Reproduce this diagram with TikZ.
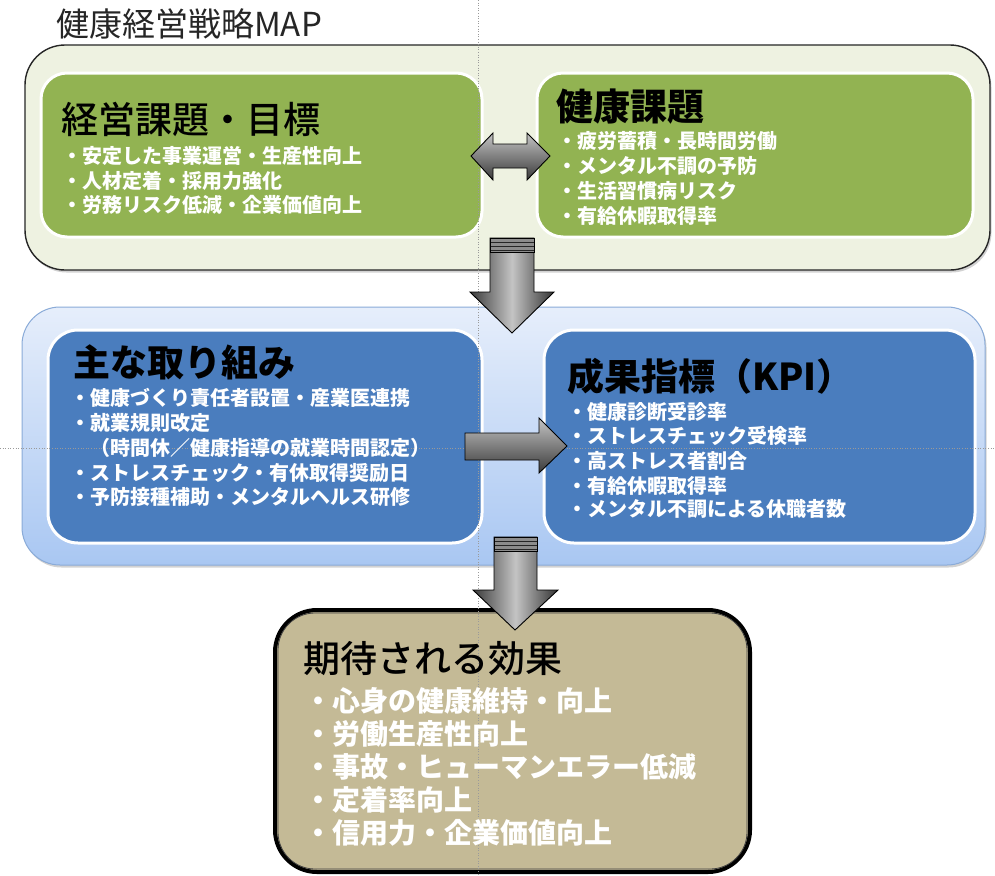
\documentclass[tikz,border=0pt]{standalone}
\usepackage{fontspec}
\setmainfont{Noto Sans CJK JP}
\newfontfamily\jpmedium{Noto Sans CJK JP Medium}
\usetikzlibrary{shadows}
\definecolor{toppanel}{HTML}{EEF2E1}
\definecolor{greenbox}{HTML}{92B352}
\definecolor{bluebox}{HTML}{4A7DBE}
\definecolor{khaki}{HTML}{C4BA96}
\definecolor{midtop}{HTML}{E6EEFB}
\definecolor{midbot}{HTML}{A9C7F2}
\definecolor{midline}{HTML}{8AABD8}
\definecolor{guide}{HTML}{9A9A9A}
\definecolor{arrdark}{HTML}{3A3A3A}
\definecolor{arrlight}{HTML}{C4C4C4}
\begin{document}
\begin{tikzpicture}[x=1pt,y=-1pt,
  outerpanel/.style={inner sep=0pt, rounded corners=40pt, line width=1.4pt,
    drop shadow={shadow xshift=1.5pt, shadow yshift=-2.5pt, opacity=.35}},
  innerbox/.style={inner sep=0pt, rounded corners=26pt, draw=white, line width=3pt},
  head/.style={anchor=base west, inner sep=0pt, font=\fontsize{37}{37}\selectfont\bfseries, text=black},
  headmed/.style={anchor=base west, inner sep=0pt, font=\fontsize{37}{37}\selectfont\jpmedium, text=black},
  item/.style={anchor=base west, inner sep=0pt, font=\fontsize{20}{20}\selectfont\bfseries, text=white},
  bigitem/.style={anchor=base west, inner sep=0pt, font=\fontsize{28}{28}\selectfont\bfseries, text=white},
  blockarrow/.style={draw=black, line width=0.9pt, line join=miter},
  guideline/.style={draw=guide, dotted, line width=0.6pt}
]
\useasboundingbox (0,0) rectangle (995,875);
\fill[white] (0,0) rectangle (995,875);

% title
\node[anchor=base west, inner sep=0pt, font=\fontsize{33}{33}\selectfont, text=black!85] (title) at (56,37) {健康経営戦略MAP};

% top panel
\node[outerpanel, draw=black!85, fill=toppanel, minimum width=965pt, minimum height=225pt] (top) at (507.5,157.5) {};
\node[innerbox, fill=greenbox, minimum width=441pt, minimum height=164pt] (mgmt) at (261.5,155) {};
\node[innerbox, fill=greenbox, minimum width=436pt, minimum height=164pt] (health) at (755,155) {};

% middle panel
\node[outerpanel, rounded corners=38pt, draw=midline, line width=1pt, top color=midtop, bottom color=midbot, minimum width=963pt, minimum height=258pt] (mid) at (503.5,436) {};
\node[innerbox, rounded corners=30pt, fill=bluebox, minimum width=434pt, minimum height=213pt] (acts) at (265,436.5) {};
\node[innerbox, rounded corners=30pt, fill=bluebox, minimum width=431pt, minimum height=213pt] (kpi) at (759.5,436.5) {};

% bottom box
\node[inner sep=0pt, rounded corners=42pt, draw=black, line width=4pt, fill=khaki, minimum width=475pt, minimum height=262pt] (effect) at (512.5,741) {};
\draw[black!75, line width=0.8pt, rounded corners=37pt] ([xshift=5pt,yshift=-5pt]effect.north west) rectangle ([xshift=-5pt,yshift=5pt]effect.south east);

% guides
\coordinate (gtop) at (478,0);
\coordinate (gbot) at (478,875);
\coordinate (gleft) at (0,448);
\coordinate (gright) at (995,448);
\draw[guideline] (gtop) -- (gbot);
\draw[guideline] (gleft) -- (gright);

% texts: top-left
\node[headmed] (h1) at (61,133) {経営課題・目標};
\node[item] (a1) at (62,163) {・安定した事業運営・生産性向上};
\node[item] (a2) at (62,188) {・人材定着・採用力強化};
\node[item] (a3) at (62,212) {・労務リスク低減・企業価値向上};

% top-right
\node[head] (h2) at (556,120) {健康課題};
\node[item] (b1) at (557,148) {・疲労蓄積・長時間労働};
\node[item] (b2) at (557,173) {・メンタル不調の予防};
\node[item] (b3) at (557,198) {・生活習慣病リスク};
\node[item] (b4) at (557,223) {・有給休暇取得率};

% middle-left
\node[head] (h3) at (73,376) {主な取り組み};
\node[item] (c1) at (70,405) {・健康づくり責任者設置・産業医連携};
\node[item] (c2) at (70,430) {・就業規則改定};
\node[item] (c3) at (70,455) {　（時間休／健康指導の就業時間認定）};
\node[item] (c4) at (70,480) {・ストレスチェック・有休取得奨励日};
\node[item] (c5) at (70,504) {・予防接種補助・メンタルヘルス研修};

% middle-right
\node[head] (h4) at (567,390) {成果指標（KPI）};
\node[item] (d1) at (567,419) {・健康診断受診率};
\node[item] (d2) at (567,443) {・ストレスチェック受検率};
\node[item] (d3) at (567,468) {・高ストレス者割合};
\node[item] (d4) at (567,493) {・有給休暇取得率};
\node[item] (d5) at (567,516) {・メンタル不調による休職者数};

% bottom
\node[headmed] (h5) at (303,672) {期待される効果};
\node[bigitem] (e1) at (304,711) {・心身の健康維持・向上};
\node[bigitem] (e2) at (304,744) {・労働生産性向上};
\node[bigitem] (e3) at (304,777) {・事故・ヒューマンエラー低減};
\node[bigitem] (e4) at (304,810) {・定着率向上};
\node[bigitem] (e5) at (304,843) {・信用力・企業価値向上};

% double arrow between top boxes
\path[blockarrow, top color=arrlight, bottom color=arrdark]
  (471,156) -- (493,133) -- (493,144) -- (527,144) -- (527,133) -- (550,156)
  -- (527,180) -- (527,168) -- (493,168) -- (493,180) -- cycle;

% down arrow 1
\path[blockarrow, left color=arrdark, right color=black!80, middle color=arrlight]
  (490,238) -- (534,238) -- (534,292) -- (554,292) -- (512,333) -- (470,292) -- (490,292) -- cycle;
\fill[black!45] (490.5,238.5) rectangle (533.5,252);
\draw[black!85, line width=0.8pt] (490,242) -- (534,242) (490,246) -- (534,246) (490,250) -- (534,250);
\draw[black, line width=0.9pt] (490,238) rectangle (534,252);

% right arrow
\path[blockarrow, top color=arrlight, bottom color=arrdark]
  (465,433) -- (539,433) -- (539,418) -- (567,446) -- (539,473) -- (539,460) -- (465,460) -- cycle;

% down arrow 2
\path[blockarrow, left color=arrdark, right color=black!80, middle color=arrlight]
  (494,537) -- (537,537) -- (537,590) -- (558,590) -- (515,630) -- (473,590) -- (494,590) -- cycle;
\fill[black!45] (494.5,537.5) rectangle (536.5,551);
\draw[black!85, line width=0.8pt] (494,541) -- (537,541) (494,545) -- (537,545) (494,549) -- (537,549);
\draw[black, line width=0.9pt] (494,537) rectangle (537,551);
\end{tikzpicture}
\end{document}
